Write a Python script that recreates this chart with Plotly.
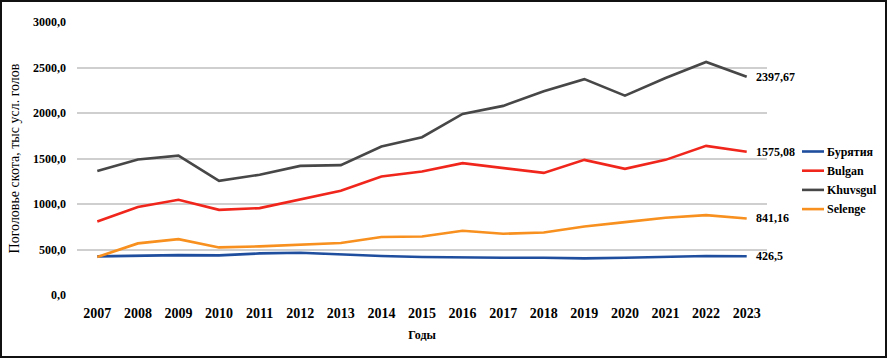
import plotly.graph_objects as go

years = [str(y) for y in range(2007, 2024)]
buryatia = [424, 435, 438, 435, 457, 464, 442, 428, 417, 409, 409, 409, 402, 409, 417, 428, 426.5]
bulgan = [808, 966, 1046, 936, 955, 1052, 1145, 1302, 1357, 1449, 1394, 1342, 1485, 1386, 1485, 1639, 1575.08]
khuvsgul = [1362, 1490, 1532, 1254, 1322, 1419, 1427, 1631, 1734, 1990, 2078, 2240, 2372, 2190, 2385, 2561, 2397.67]
selenge = [417, 567, 614, 523, 534, 549, 571, 637, 643, 706, 673, 687, 753, 801, 849, 878, 841.16]

series_names = ["Бурятия", "Bulgan", "Khuvsgul", "Selenge"]
series_values = [buryatia, bulgan, khuvsgul, selenge]
colors = ["#1f4e9e", "#f0261c", "#474747", "#f7901e"]

y_ticks = [0, 500, 1000, 1500, 2000, 2500, 3000]
y_title = "Поголовье скота, тыс усл. голов"
x_title = "Годы"

FONT = "Liberation Serif"
W, H = 887, 358
ML, MR, MT, MB = 77, 120, 22, 63
PW = W - ML - MR
PH = H - MT - MB


def px_x(px):
    return (px - ML) / PW


def px_y(py):
    return (H - MB - py) / PH


fig = go.Figure()
for name, vals, col in zip(series_names, series_values, colors):
    fig.add_trace(go.Scatter(x=years, y=vals, name=name, mode="lines",
                             line=dict(color=col, width=2.6), showlegend=False))
    last = vals[-1]
    fig.add_annotation(x=len(years) - 1, y=last, text=str(last).replace(".", ","),
                       xanchor="left", yanchor="middle", xshift=7, showarrow=False,
                       font=dict(family=FONT, size=12, color="#000000", weight="bold"))

# legend (short line samples like the original)
LEG_X0, LEG_X1, LEG_TX, LEG_Y0, LEG_DY = 802, 824, 825, 151.5, 19.2
for i, (name, col) in enumerate(zip(series_names, colors)):
    yy = px_y(LEG_Y0 + i * LEG_DY)
    fig.add_shape(type="line", xref="paper", yref="paper",
                  x0=px_x(LEG_X0), x1=px_x(LEG_X1), y0=yy, y1=yy,
                  line=dict(color=col, width=2.6))
    fig.add_annotation(xref="paper", yref="paper", x=px_x(LEG_TX), y=yy, text=name,
                       xanchor="left", yanchor="middle", showarrow=False,
                       font=dict(family=FONT, size=12, color="#000000", weight="bold"))

# outer border of the image
fig.add_shape(type="rect", xref="paper", yref="paper",
              x0=px_x(1), x1=px_x(W - 1), y0=px_y(H - 1), y1=px_y(1),
              line=dict(color="#111111", width=2), fillcolor="rgba(0,0,0,0)")

fig.update_layout(
    width=W, height=H,
    margin=dict(l=ML, r=MR, t=MT, b=MB, autoexpand=False),
    paper_bgcolor="white", plot_bgcolor="white",
    separators=", ",
    font=dict(family=FONT, color="#000000"),
    showlegend=False,
    xaxis=dict(type="category", range=[-0.5, len(years) - 0.5],
               showgrid=False, showline=False, zeroline=False,
               ticks="", ticklabelstandoff=8,
               tickfont=dict(family=FONT, size=14, color="#000000", weight="bold"),
               title=dict(text=x_title, standoff=10,
                          font=dict(family=FONT, size=12, color="#000000", weight="bold"))),
    yaxis=dict(range=[0, 3000], tickvals=y_ticks, tickformat=".1f",
               showgrid=True, gridcolor="#cfcfcf", gridwidth=1.5,
               zeroline=False, showline=False, ticks="", ticklabelstandoff=10,
               tickfont=dict(family=FONT, size=12, color="#000000", weight="bold"),
               title=dict(text=y_title, standoff=10,
                          font=dict(family=FONT, size=14, color="#000000"))),
)

fig.write_html("out.html", config={"displayModeBar": False},
               post_script="document.body.style.margin='0';")
